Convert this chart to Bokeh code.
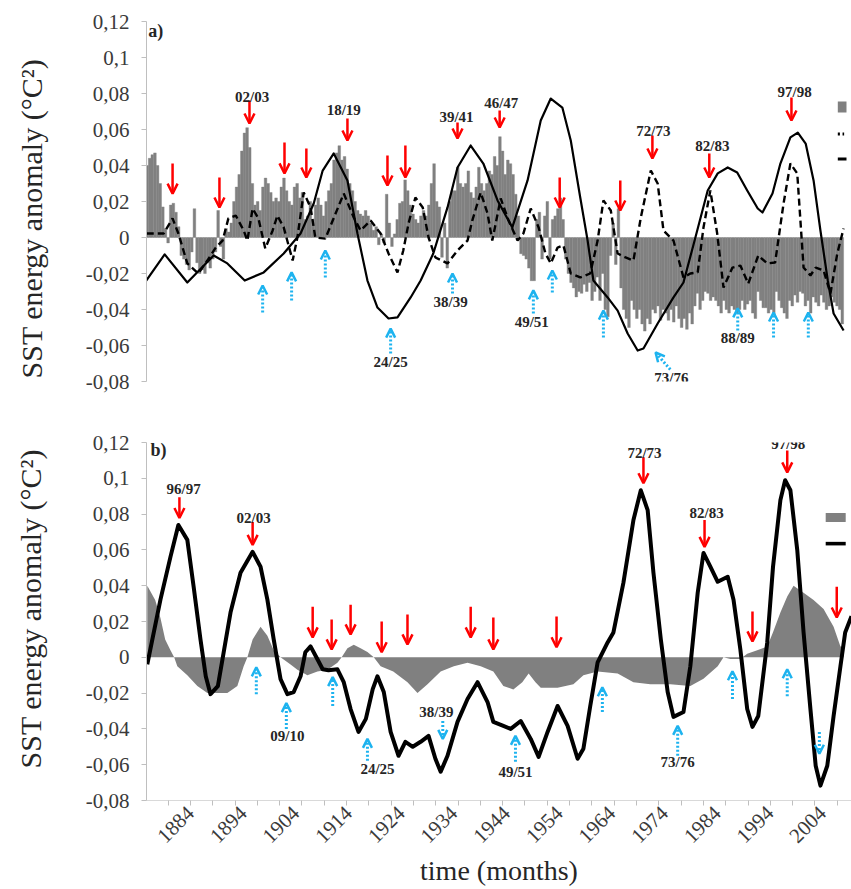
import math
from bokeh.plotting import figure
from bokeh.models import (ColumnDataSource, Arrow, OpenHead, FixedTicker, LabelSet, Label,
                          CustomJSTickFormatter, Range1d, BoxAnnotation)
from bokeh.layouts import column, row
from bokeh.embed import file_html
from bokeh.resources import INLINE
from bokeh.core.properties import value

# ---------------- data ----------------
X_START, X_END = 1875.65, 2009.5
Y_TICKS = [-0.08, -0.06, -0.04, -0.02, 0.0, 0.02, 0.04, 0.06, 0.08, 0.1, 0.12]
X_LABEL_YEARS = [1884, 1894, 1904, 1914, 1924, 1934, 1944, 1954, 1964, 1974, 1984, 1994, 2004]

# panel a) monthly anomaly bars, half-year resolution (x 1e-3), years 1875..2007
bar_first_year = 1875
bar_h1 = [0, 44, 47, 30, 5, 18, 14, -10, -15, -8,
          -14, -18, -14, -12, 15, -12, 3, 20, 35, 58,
          50, 18, 15, 33, 25, 22, 28, 26, 18, 30,
          25, 12, 10, 22, 12, 26, 43, 51, 45, 30,
          20, 13, 15, 8, 6, 2, 24, -5, 10, 20,
          26, 13, 8, 15, 18, 41, 17, 8, 20, 26,
          30, 30, 25, 28, 30, 30, 35, 40, 48, 43,
          35, 12, -10, -17, -24, 14, 12, -12, 12, 22,
          -12, -25, -33, -31, -30, -35, -22, -20, -44, 8,
          16, -40, -50, -40, -40, -52, -48, -42, -46, -42,
          -40, -38, -50, -51, -48, -31, -35, -31, -33, -38,
          -35, -42, -40, -40, -40, -35, -45, -35, -39, -40,
          -30, -39, -45, -38, -36, -31, -35, -33, -38, -36,
          -38, -36, -40]
bar_h2 = [40, 46, 40, 17, -3, 19, 6, -12, -18, 16,
          -20, -20, -17, -8, -5, 5, 8, 28, 48, 61,
          30, 20, 28, 30, 20, 20, 33, 20, 28, 22,
          10, 20, 18, 18, 20, 30, 47, 43, 38, 26,
          15, 12, 12, 4, -4, -3, 8, 2, 19, 32,
          18, 10, 12, 12, 30, 20, -11, -17, 26, 39,
          28, 37, 22, 39, 26, 37, 45, 56, 35, 41,
          24, -9, -12, -24, 10, -12, 20, 10, 16, 10,
          -20, -28, -30, -26, -25, -30, -35, -40, -10, -15,
          -28, -45, -35, -45, -48, -45, -40, -38, -40, -46,
          -47, -45, -45, -42, -38, -40, -30, -35, -35, -42,
          -40, -38, -42, -35, -37, -42, -30, -39, -42, -43,
          -35, -42, -35, -32, -30, -38, -42, -36, -32, -40,
          -33, -38, -48]

# panel a) dashed curve
a_dash_year = [1875.7, 1878.9, 1880.6, 1881.7, 1883.4, 1885.5, 1887.2, 1888.8, 1890.1, 1891.2,
               1892.6, 1894.1, 1894.8, 1895.8, 1896.9, 1898.2, 1899.6, 1900.5, 1901.7, 1903.4,
               1904.3, 1905.5, 1906.8, 1907.7, 1909.6, 1913.1, 1915.0, 1916.3, 1918.2, 1920.1,
               1921.6, 1923.3, 1924.4, 1925.4, 1926.7, 1928.1, 1929.2, 1930.5, 1932.8, 1934.7,
               1936.6, 1937.5, 1939.1, 1940.4, 1941.3, 1942.9, 1944.4, 1946.1, 1947.2, 1948.6,
               1950.1, 1951.4, 1952.4, 1953.7, 1954.8, 1956.2, 1958.0, 1959.9, 1961.3, 1962.4,
               1963.8, 1965.1, 1966.6, 1968.1, 1969.5, 1971.4, 1972.7, 1973.8, 1975.7, 1977.6,
               1978.9, 1980.3, 1981.4, 1982.7, 1984.0, 1985.2, 1986.9, 1988.4, 1989.9, 1991.8,
               1993.5, 1995.0, 1996.6, 1997.9, 1999.2, 2000.4, 2001.7, 2002.7, 2004.2, 2005.5,
               2006.8, 2008.0]
a_dash_val = [0.0022, 0.0022, 0.0106, 0.0022, -0.0144, -0.0200, -0.0128, -0.0056, -0.0017, 0.0106,
              0.0122, 0.0039, -0.0017, 0.0161, 0.0106, -0.0061, 0.0039, 0.0122, 0.0056, -0.0128,
              0.0000, 0.0250, 0.0167, 0.0000, -0.0006, 0.0244, 0.0111, 0.0039, 0.0094, 0.0022,
              -0.0089, -0.0194, -0.0072, 0.0078, 0.0222, 0.0167, 0.0000, -0.0111, -0.0144, -0.0072,
              -0.0017, 0.0094, 0.0250, 0.0133, -0.0017, 0.0217, 0.0094, -0.0017, 0.0022, 0.0161,
              0.0056, -0.0089, -0.0144, -0.0056, -0.0044, -0.0200, -0.0222, -0.0200, -0.0017, 0.0206,
              0.0150, -0.0089, -0.0111, -0.0128, 0.0111, 0.0372, 0.0300, 0.0039, -0.0017, -0.0222,
              -0.0200, -0.0194, 0.0056, 0.0261, 0.0022, -0.0278, -0.0167, -0.0156, -0.0256, -0.0100,
              -0.0144, -0.0139, 0.0189, 0.0411, 0.0356, -0.0167, -0.0211, -0.0167, -0.0183, -0.0311,
              -0.0089, 0.0050]

# panel a) solid curve
a_solid_year = [1875.6, 1879.1, 1883.4, 1888.4, 1891.0, 1894.3, 1897.9, 1901.7, 1904.9, 1907.4,
                1909.1, 1911.2, 1913.8, 1915.7, 1917.6, 1919.5, 1921.6, 1923.3, 1925.8, 1927.7,
                1930.1, 1932.8, 1934.7, 1937.2, 1939.6, 1942.3, 1945.1, 1948.0, 1950.5, 1952.4,
                1954.6, 1956.2, 1958.0, 1959.4, 1960.5, 1963.2, 1965.1, 1967.0, 1968.9, 1970.0,
                1972.7, 1975.7, 1977.6, 1979.5, 1982.2, 1984.1, 1986.0, 1987.8, 1989.7, 1991.7,
                1992.6, 1994.5, 1996.0, 1997.9, 1999.3, 2000.8, 2002.3, 2003.6, 2005.0, 2006.1,
                2008.0]
a_solid_val = [-0.0239, -0.0094, -0.0250, -0.0100, -0.0144, -0.0239, -0.0194, -0.0089, 0.0022, 0.0189,
               0.0372, 0.0467, 0.0317, 0.0022, -0.0239, -0.0389, -0.0450, -0.0444, -0.0333, -0.0239,
               -0.0089, 0.0167, 0.0389, 0.0511, 0.0411, 0.0206, 0.0056, 0.0317, 0.0650, 0.0772,
               0.0722, 0.0539, 0.0222, -0.0017, -0.0239, -0.0333, -0.0406, -0.0533, -0.0628, -0.0617,
               -0.0478, -0.0333, -0.0250, -0.0040, 0.0261, 0.0356, 0.0389, 0.0361, 0.0261, 0.0161,
               0.0139, 0.0244, 0.0411, 0.0556, 0.0583, 0.0522, 0.0317, 0.0039, -0.0239, -0.0422,
               -0.0517]

# panel b) grey area
b_area_year = [1875.8, 1877.3, 1878.3, 1879.2, 1880.2, 1880.9, 1881.5, 1883.4, 1885.3, 1887.2,
               1891.0, 1892.9, 1894.1, 1894.8, 1895.8, 1897.3, 1898.6, 1899.8, 1901.1, 1903.0,
               1904.3, 1906.2, 1908.1, 1910.0, 1911.9, 1912.7, 1913.8, 1915.0, 1916.3, 1917.6,
               1918.8, 1920.1, 1922.5, 1925.2, 1927.1, 1929.0, 1931.5, 1934.0, 1936.6, 1939.1,
               1941.5, 1943.4, 1945.3, 1947.0, 1948.2, 1949.5, 1950.5, 1953.7, 1956.7, 1958.6,
               1961.3, 1965.1, 1968.1, 1971.3, 1975.1, 1978.9, 1981.4, 1984.1, 1985.2, 1986.5,
               1988.4, 1989.7, 1991.6, 1993.5, 1994.6, 1996.0, 1997.3, 1998.5, 2000.4, 2002.3,
               2004.2, 2006.1, 2007.4, 2008.0]
b_area_val = [0.040, 0.032, 0.022, 0.010, 0.004, 0.0, -0.005, -0.010, -0.016, -0.020,
              -0.020, -0.016, -0.005, 0.0, 0.010, 0.017, 0.012, 0.004, 0.0, -0.004,
              -0.007, -0.010, -0.008, -0.007, -0.003, 0.0, 0.005, 0.007, 0.005, 0.003,
              0.0, -0.005, -0.008, -0.014, -0.020, -0.015, -0.008, -0.005, -0.003, -0.005,
              -0.008, -0.016, -0.018, -0.014, -0.009, -0.014, -0.017, -0.017, -0.015, -0.010,
              -0.008, -0.009, -0.014, -0.015, -0.015, -0.016, -0.012, -0.005, 0.0, -0.001,
              -0.001, 0.002, 0.004, 0.006, 0.014, 0.025, 0.034, 0.040, 0.036, 0.032,
              0.027, 0.017, 0.006, 0.006]

# panel b) solid curve
b_solid_year = [1875.8, 1878.3, 1880.2, 1881.7, 1883.4, 1884.6, 1885.9, 1886.9, 1887.8, 1889.2,
                1890.3, 1891.6, 1893.5, 1895.8, 1897.3, 1898.6, 1899.8, 1901.1, 1902.4, 1903.6,
                1904.9, 1905.8, 1906.8, 1908.1, 1909.1, 1910.2, 1911.9, 1913.1, 1914.4, 1915.9,
                1917.3, 1918.6, 1919.5, 1920.7, 1922.0, 1923.5, 1924.8, 1926.2, 1927.7, 1929.2,
                1930.5, 1931.5, 1932.8, 1934.7, 1936.6, 1938.5, 1940.4, 1941.5, 1943.4, 1944.8,
                1946.7, 1948.6, 1950.1, 1951.8, 1953.7, 1955.6, 1957.5, 1958.6, 1959.9, 1961.3,
                1963.2, 1964.3, 1966.2, 1968.1, 1969.5, 1970.8, 1971.9, 1973.3, 1974.6, 1975.7,
                1977.6, 1978.9, 1980.3, 1981.4, 1982.7, 1984.1, 1986.0, 1987.1, 1988.4, 1989.7,
                1990.7, 1991.8, 1993.5, 1994.6, 1996.0, 1996.9, 1997.9, 1999.2, 2000.4, 2001.7,
                2002.7, 2003.6, 2004.9, 2006.1, 2007.4, 2008.3, 2009.5]
b_solid_val = [-0.0039, 0.0322, 0.0561, 0.0739, 0.0656, 0.0394, 0.0100, -0.0106, -0.0206, -0.0161,
               0.0028, 0.0250, 0.0472, 0.0589, 0.0506, 0.0322, 0.0100, -0.0122, -0.0206, -0.0194,
               -0.0106, 0.0028, 0.0061, -0.0011, -0.0067, -0.0072, -0.0067, -0.0139, -0.0289, -0.0417,
               -0.0344, -0.0178, -0.0106, -0.0194, -0.0417, -0.0550, -0.0472, -0.0500, -0.0472, -0.0439,
               -0.0567, -0.0639, -0.0550, -0.0361, -0.0233, -0.0139, -0.0250, -0.0361, -0.0383, -0.0400,
               -0.0356, -0.0456, -0.0556, -0.0417, -0.0272, -0.0383, -0.0567, -0.0511, -0.0272, -0.0028,
               0.0083, 0.0139, 0.0417, 0.0767, 0.0933, 0.0822, 0.0472, 0.0100, -0.0194, -0.0333,
               -0.0306, -0.0050, 0.0361, 0.0583, 0.0506, 0.0422, 0.0450, 0.0322, 0.0044, -0.0289,
               -0.0389, -0.0328, 0.0083, 0.0506, 0.0878, 0.0989, 0.0933, 0.0600, 0.0139, -0.0289,
               -0.0606, -0.0717, -0.0606, -0.0328, -0.0050, 0.0139, 0.0230]

# event arrows (year, tail value, tip value)
a_red_year = [1880.6, 1889.5, 1895.2, 1901.85, 1906.0, 1913.8, 1921.4, 1924.8, 1934.7, 1942.7,
              1954.1, 1965.6, 1971.7, 1982.5, 1998.1]
a_red_tail = [0.0411, 0.0333, 0.0761, 0.0528, 0.0494, 0.0661, 0.0456, 0.0511, 0.0639, 0.0706,
              0.0333, 0.0317, 0.0567, 0.0467, 0.0778]
a_red_tip = [0.0244, 0.0167, 0.0633, 0.0356, 0.0333, 0.0539, 0.0289, 0.0333, 0.0550, 0.0611,
             0.0167, 0.0150, 0.0439, 0.0333, 0.0650]
a_blue_tail_year = [1897.7, 1903.2, 1909.6, 1922.0, 1933.75, 1949.1, 1952.7, 1962.4, 1975.1, 1987.9,
                    1994.7, 2001.3]
a_blue_tip_year = [1897.7, 1903.2, 1909.6, 1922.0, 1933.75, 1949.1, 1952.7, 1962.4, 1972.3, 1987.9,
                   1994.7, 2001.3]
a_blue_tail = [-0.0417, -0.0350, -0.0222, -0.0644, -0.0311, -0.0422, -0.0306, -0.0556, -0.0733, -0.0517,
               -0.0556, -0.0556]
a_blue_tip = [-0.0267, -0.0194, -0.0072, -0.0506, -0.0200, -0.0294, -0.0183, -0.0406, -0.0639, -0.0394,
              -0.0417, -0.0417]
a_label_text = ["02/03", "18/19", "39/41", "46/47", "72/73", "82/83", "97/98",
                "24/25", "38/39", "49/51", "73/76", "88/89"]
a_label_year = [1895.7, 1913.1, 1934.5, 1943.0, 1971.9, 1983.1, 1998.7,
                1922.0, 1933.4, 1948.8, 1975.3, 1987.9]
a_label_val = [0.0783, 0.0706, 0.0672, 0.0750, 0.0594, 0.0506, 0.0811,
               -0.0694, -0.0361, -0.0472, -0.0783, -0.0561]

b_red_year = [1881.9, 1895.8, 1907.2, 1910.8, 1914.4, 1920.3, 1925.2, 1937.2, 1941.5, 1953.5,
              1970.0, 1981.6, 1990.7, 1997.3, 2006.7]
b_red_tail = [0.0894, 0.0756, 0.0283, 0.0211, 0.0294, 0.0200, 0.0239, 0.0283, 0.0222, 0.0228,
              0.1117, 0.0767, 0.0256, 0.1156, 0.0394]
b_red_tip = [0.0778, 0.0628, 0.0111, 0.0044, 0.0128, 0.0028, 0.0072, 0.0111, 0.0044, 0.0056,
             0.0972, 0.0617, 0.0089, 0.1033, 0.0222]
b_blue_year = [1896.5, 1902.2, 1911.0, 1917.6, 1931.9, 1945.7, 1962.2, 1976.5, 1986.9, 1997.3, 2003.4]
b_blue_tail = [-0.0206, -0.0400, -0.0272, -0.0578, -0.0356, -0.0583, -0.0306, -0.0550, -0.0233, -0.0217, -0.0417]
b_blue_tip = [-0.0056, -0.0256, -0.0111, -0.0456, -0.0456, -0.0439, -0.0167, -0.0383, -0.0078, -0.0067, -0.0539]
b_label_text = ["96/97", "02/03", "72/73", "82/83", "97/98",
                "09/10", "24/25", "38/39", "49/51", "73/76"]
b_label_year = [1882.7, 1896.0, 1970.2, 1982.0, 1997.5,
                1902.4, 1919.5, 1930.7, 1945.7, 1976.5]
b_label_val = [0.0939, 0.0778, 0.1139, 0.0806, 0.1194,
               -0.0439, -0.0622, -0.0306, -0.0639, -0.0583]

Y_TITLE = "SST energy anomaly (°C²)"
X_TITLE = "time (months)"

# ---------------- style ----------------
SERIF = "Liberation Serif"
GREY = "#808080"
RED = "#ff0000"
BLUE = "#1db3ef"
AXIS_GREY = "#bfbfbf"
TEXT = "#262626"
STRIP_W = 50          # width of the strip that carries the vertical axis title

Y_FMT = CustomJSTickFormatter(code="""
    const v = Math.round(tick * 100) / 100;
    return v.toString().replace('.', ',');
""")


def title_strip(height, cx, cy_from_top):
    s = figure(width=STRIP_W, height=height, x_range=Range1d(0, STRIP_W),
               y_range=Range1d(0, height), x_axis_location=None, y_axis_location=None,
               output_backend="svg", toolbar_location=None,
               min_border_left=0, min_border_right=0, min_border_top=0, min_border_bottom=0)
    s.outline_line_color = None
    s.grid.visible = False
    s.text(x=[cx], y=[height - cy_from_top], text=[Y_TITLE], angle=math.pi / 2,
           text_font=value(SERIF), text_font_size="30px", text_color=TEXT,
           text_align="center", text_baseline="middle")
    return s


def make_fig(height, border_top, border_bottom, with_x):
    p = figure(width=851 - STRIP_W, height=height,
               x_range=Range1d(X_START, X_END), y_range=Range1d(-0.08, 0.12),
               x_axis_location="below" if with_x else None,
               output_backend="svg", toolbar_location=None,
               min_border_left=146 - STRIP_W, min_border_right=0,
               min_border_top=border_top, min_border_bottom=border_bottom)
    p.outline_line_color = None
    p.grid.visible = False
    p.background_fill_color = "white"
    p.border_fill_color = "white"
    ya = p.yaxis[0]
    ya.ticker = FixedTicker(ticks=Y_TICKS)
    ya.formatter = Y_FMT
    ya.axis_line_color = AXIS_GREY
    ya.major_tick_line_color = AXIS_GREY
    ya.major_tick_out = 5
    ya.major_tick_in = 0
    ya.minor_tick_line_color = None
    ya.major_label_text_font = SERIF
    ya.major_label_text_font_size = "21px"
    ya.major_label_text_color = "#3a3a3a"
    ya.major_label_standoff = 12
    return p


def add_arrows(p, xs0, ys0, xs1, ys1, color, dashed):
    src = ColumnDataSource(dict(x0=xs0, y0=ys0, x1=xs1, y1=ys1))
    head = OpenHead(size=10 if not dashed else 9, line_color=color, line_width=2.5)
    arr = Arrow(end=head, source=src, x_start="x0", y_start="y0", x_end="x1", y_end="y1",
                line_color=color, line_width=3 if dashed else 2.5,
                line_dash="2 2" if dashed else "solid")
    p.add_layout(arr)


def add_labels(p, xs, ys, texts):
    src = ColumnDataSource(dict(x=xs, y=ys, t=texts))
    p.add_layout(LabelSet(x="x", y="y", text="t", source=src, text_font=value(SERIF),
                          text_font_style="bold", text_font_size="15px", text_color=TEXT,
                          text_align="center", text_baseline="middle"))


def add_panel_tag(p, x_year, y_val, tag):
    p.add_layout(Label(x=x_year, y=y_val, text=tag, text_font=SERIF, text_font_style="bold",
                       text_font_size="18px", text_color=TEXT,
                       text_align="left", text_baseline="middle"))


# ---------------- panel a ----------------
pa = make_fig(400, 21, 19, False)

bar_x, bar_top = [], []
for i, (v1, v2) in enumerate(zip(bar_h1, bar_h2)):
    yr = bar_first_year + i
    bar_x += [yr + 0.25, yr + 0.75]
    bar_top += [v1 / 1000.0, v2 / 1000.0]
pa.vbar(x=bar_x, top=bar_top, bottom=0, width=0.5, fill_color=GREY,
        line_color=GREY, line_width=0.4)
pa.line(a_dash_year, a_dash_val, line_color="black", line_width=2.4, line_dash="7 4")
pa.line(a_solid_year, a_solid_val, line_color="black", line_width=2.2, line_join="round")

add_arrows(pa, a_red_year, a_red_tail, a_red_year, a_red_tip, RED, False)
add_arrows(pa, a_blue_tail_year, a_blue_tail, a_blue_tip_year, a_blue_tip, BLUE, True)
add_labels(pa, a_label_year, a_label_val, a_label_text)
add_panel_tag(pa, 1876.0, 0.1145, "a)")

# partially visible legend keys at the right edge
pa.add_layout(BoxAnnotation(left=2006.9, right=2008.55, bottom=0.0694, top=0.0756,
                            fill_color=GREY, fill_alpha=1, line_color=None))
pa.add_layout(BoxAnnotation(left=2006.9, right=2007.3, bottom=0.0567, top=0.0583,
                            fill_color="black", fill_alpha=1, line_color=None))
pa.add_layout(BoxAnnotation(left=2007.8, right=2008.1, bottom=0.0567, top=0.0583,
                            fill_color="black", fill_alpha=1, line_color=None))
pa.add_layout(BoxAnnotation(left=2006.9, right=2008.55, bottom=0.0428, top=0.0444,
                            fill_color="black", fill_alpha=1, line_color=None))

# ---------------- panel b ----------------
pb = make_fig(489, 42, 87, True)
pb.varea(x=b_area_year, y1=[0.0] * len(b_area_year), y2=b_area_val, fill_color=GREY)
pb.line(b_solid_year, b_solid_val, line_color="black", line_width=4, line_join="round")

add_arrows(pb, b_red_year, b_red_tail, b_red_year, b_red_tip, RED, False)
add_arrows(pb, b_blue_year, b_blue_tail, b_blue_year, b_blue_tip, BLUE, True)
add_labels(pb, b_label_year, b_label_val, b_label_text)
add_panel_tag(pb, 1876.4, 0.1156, "b)")

pb.add_layout(BoxAnnotation(left=2004.6, right=2008.4, bottom=0.0756, top=0.0806,
                            fill_color=GREY, fill_alpha=1, line_color=None))
pb.add_layout(BoxAnnotation(left=2004.6, right=2008.4, bottom=0.0625, top=0.0645,
                            fill_color="black", fill_alpha=1, line_color=None))

xa = pb.xaxis[0]
xa.ticker = FixedTicker(ticks=X_LABEL_YEARS,
                        minor_ticks=[1884 + 4.234 * k for k in range(-1, 30)])
xa.axis_line_color = "#d9d9d9"
xa.major_tick_line_color = None
xa.major_tick_out = 0
xa.major_tick_in = 0
xa.minor_tick_line_color = AXIS_GREY
xa.minor_tick_out = 5
xa.minor_tick_in = 0
xa.major_label_orientation = math.pi / 4
xa.major_label_text_font = SERIF
xa.major_label_text_font_size = "21px"
xa.major_label_text_color = "#3a3a3a"
xa.major_label_standoff = 4
xa.axis_label = X_TITLE
xa.axis_label_text_font = SERIF
xa.axis_label_text_font_size = "28px"
xa.axis_label_text_font_style = "normal"
xa.axis_label_text_color = TEXT
xa.axis_label_standoff = 3

ta = title_strip(400, 31, 219)
tb = title_strip(489, 30, 227)

layout = column(row(ta, pa), row(tb, pb))
open("out.html", "w").write(file_html(layout, INLINE))
